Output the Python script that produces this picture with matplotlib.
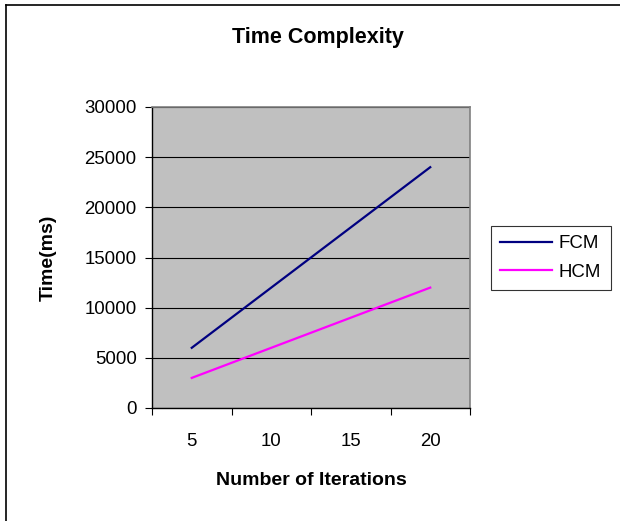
import matplotlib
matplotlib.use("Agg")
import matplotlib.pyplot as plt
from matplotlib.lines import Line2D

plt.rcParams['font.family'] = ['Liberation Sans', 'DejaVu Sans']

categories = ["5", "10", "15", "20"]
fcm = [6000, 12000, 18000, 24000]
hcm = [3000, 6000, 9000, 12000]
yticks = [0, 5000, 10000, 15000, 20000, 25000, 30000]

fig = plt.figure(figsize=(6.2, 5.21), dpi=100)
ax = fig.add_axes([152/620, 1-408/521, 318/620, 301/521])
ax.set_facecolor('#C0C0C0')

x = list(range(len(categories)))
ax.plot(x, fcm, color='#000080', lw=1.6, label='FCM', zorder=3)
ax.plot(x, hcm, color='#FF00FF', lw=1.6, label='HCM', zorder=3)

ax.set_xlim(-0.5, len(categories)-0.5)
ax.set_ylim(0, 30000)
ax.set_yticks(yticks)
ax.set_yticklabels([str(v) for v in yticks], fontsize=13.4)
ax.yaxis.grid(True, color='black', lw=0.8)
ax.set_axisbelow(True)

ax.set_xticks([i - 0.5 for i in range(len(categories)+1)])
ax.set_xticklabels([])
ax.set_xticks(x, minor=True)
ax.set_xticklabels(categories, minor=True, fontsize=13.4)
ax.tick_params(axis='x', which='minor', length=0, pad=18)
ax.tick_params(axis='both', which='major', length=5, width=0.8, direction='out', color='black')
ax.tick_params(axis='y', pad=6)

for s in ['top', 'right']:
    ax.spines[s].set_color('#808080')
    ax.spines[s].set_linewidth(1.2)
for s in ['left', 'bottom']:
    ax.spines[s].set_color('black')
    ax.spines[s].set_linewidth(1.0)

ax.set_xlabel('Number of Iterations', fontsize=14, fontweight='bold', labelpad=16)
ax.set_ylabel('Time(ms)', fontsize=14, fontweight='bold', labelpad=20)
fig.text(318/620, 1-37/521, 'Time Complexity', fontsize=15.5, fontweight='bold', ha='center', va='center')

leg = ax.legend(loc='center left', bbox_to_anchor=(491/620, 1-258/521), bbox_transform=fig.transFigure,
                frameon=True, fancybox=False, fontsize=13.4, handlelength=2.8, borderpad=0.5,
                labelspacing=0.6, handletextpad=0.35, borderaxespad=0)
leg.get_frame().set_edgecolor('black')
leg.get_frame().set_linewidth(0.8)

fig.add_artist(Line2D([6/620, 6/620], [0, 1-5/521], color='black', lw=1.2, transform=fig.transFigure))
fig.add_artist(Line2D([6/620, 1], [1-5/521, 1-5/521], color='black', lw=1.2, transform=fig.transFigure))

fig.savefig('out.png', dpi=100)
